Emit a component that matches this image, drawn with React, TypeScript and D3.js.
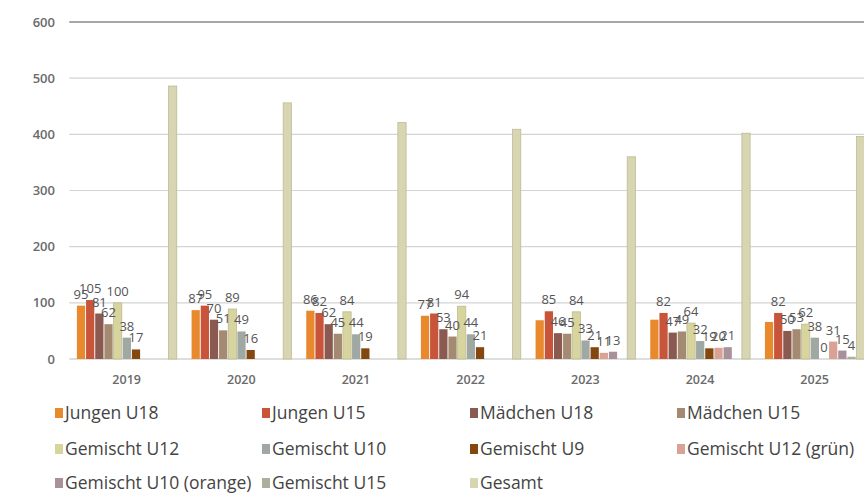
import React from 'react';
import * as d3 from 'd3';

const years = ['2019', '2020', '2021', '2022', '2023', '2024', '2025'];
const seriesNames = [
  'Jungen U18', 'Jungen U15', 'Mädchen U18', 'Mädchen U15', 'Gemischt U12',
  'Gemischt U10', 'Gemischt U9', 'Gemischt U12 (grün)', 'Gemischt U10 (orange)',
  'Gemischt U15', 'Gesamt',
];
const seriesColors = [
  '#E8892E', '#C8553A', '#8A5A50', '#A48A70', '#D8D49E',
  '#9FA8A2', '#84470F', '#D9A294', '#A8919A', '#AAB09A', '#D8D6B2',
];
const jungenU18 = [95, 87, 86, 77, 69, 70, 66];
const jungenU15 = [105, 95, 82, 81, 85, 82, 82];
const maedchenU18 = [81, 70, 62, 53, 46, 47, 50];
const maedchenU15 = [62, 51, 45, 40, 45, 49, 53];
const gemischtU12 = [100, 89, 84, 94, 84, 64, 62];
const gemischtU10 = [38, 49, 44, 44, 33, 32, 38];
const gemischtU9 = [17, 16, 19, 21, 21, 19, 0];
const gemischtU12Gruen = [null, null, null, null, 11, 20, 31];
const gemischtU10Orange = [null, null, null, null, 13, 21, 15];
const gemischtU15 = [null, null, null, null, null, null, 4];
const gesamt = [486, 456, 421, 409, 360, 402, 396];
const yTicks = [0, 100, 200, 300, 400, 500, 600];
// labels not shown in the reference: [seriesIndex, yearIndex]
const hiddenLabels = [[0, 4], [0, 5], [0, 6]];
const labelledSeries = 10; // Gesamt has no value labels

const seriesValues: (number | null)[][] = [
  jungenU18, jungenU15, maedchenU18, maedchenU15, gemischtU12, gemischtU10,
  gemischtU9, gemischtU12Gruen, gemischtU10Orange, gemischtU15, gesamt,
];

const W = 864;
const H = 495;
const plotLeft = 69.3;
const plotRight = 872;
const plotTop = 22;
const plotBottom = 359;
const FONT = "'Open Sans', 'DejaVu Sans', sans-serif";

export default function App() {
  const x0 = d3.scaleBand<string>().domain(years).range([plotLeft, plotRight]).padding(0);
  const x1 = d3
    .scaleBand<string>()
    .domain(seriesNames)
    .range([7.6, x0.bandwidth() - 7.2])
    .paddingInner(0.1);
  const y = d3.scaleLinear().domain([0, 600]).range([plotBottom, plotTop]);

  const isHidden = (s: number, i: number) => hiddenLabels.some(([a, b]) => a === s && b === i);

  const legendCols = [55, 262, 470, 677];
  const legendRows = [413, 449, 483];

  return (
    <svg
      width={W}
      height={H}
      style={{ position: 'absolute', left: 0, top: 0, background: '#fff' }}
      fontFamily={FONT}
    >
      <rect width={W} height={H} fill="#fff" />
      {yTicks.map((t) => (
        <g key={t}>
          <line
            x1={plotLeft}
            x2={W}
            y1={y(t)}
            y2={y(t)}
            stroke={t === 600 ? '#8a8a8a' : t === 0 ? '#bdbdbd' : '#d4d4d4'}
            strokeWidth={t === 600 ? 1.3 : 1.2}
          />
          <text
            x={55}
            y={y(t)}
            dy="0.35em"
            textAnchor="end"
            fontSize={13}
            fontWeight={600}
            fill="#6a6a6a"
          >
            {t}
          </text>
        </g>
      ))}
      {years.map((yr, i) => (
        <g key={yr} transform={`translate(${x0(yr)},0)`}>
          {seriesNames.map((name, s) => {
            const v = seriesValues[s][i];
            if (v === null || v === undefined) return null;
            const bx = x1(name)!;
            const bw = x1.bandwidth();
            return (
              <rect
                key={name}
                x={bx}
                y={y(v)}
                width={bw}
                height={Math.max(0, y(0) - y(v))}
                fill={seriesColors[s]}
                stroke={s === 10 || s === 4 ? '#bdbb95' : 'none'}
                strokeWidth={s === 10 || s === 4 ? 0.8 : 0}
              />
            );
          })}
          {seriesNames.slice(0, labelledSeries).map((name, s) => {
            const v = seriesValues[s][i];
            if (v === null || v === undefined || isHidden(s, i)) return null;
            const cx = x1(name)! + x1.bandwidth() / 2;
            return (
              <text
                key={'l' + name}
                x={cx}
                y={y(v) - 7}
                textAnchor="middle"
                fontSize={13}
                fill="#555"
              >
                {v}
              </text>
            );
          })}
          <text
            x={x0.bandwidth() / 2}
            y={384}
            textAnchor="middle"
            fontSize={12.5}
            fontWeight={600}
            fill="#6a6a6a"
          >
            {yr}
          </text>
        </g>
      ))}
      {seriesNames.map((name, s) => {
        const c = s % 4;
        const r = Math.floor(s / 4);
        const lx = legendCols[c];
        const ly = legendRows[r];
        return (
          <g key={'lg' + name} transform={`translate(${lx},${ly})`}>
            <rect x={0} y={-5} width={8} height={10} fill={seriesColors[s]} />
            <text x={10} y={0} dy="0.35em" fontSize={17.5} fill="#444">
              {name}
            </text>
          </g>
        );
      })}
    </svg>
  );
}
